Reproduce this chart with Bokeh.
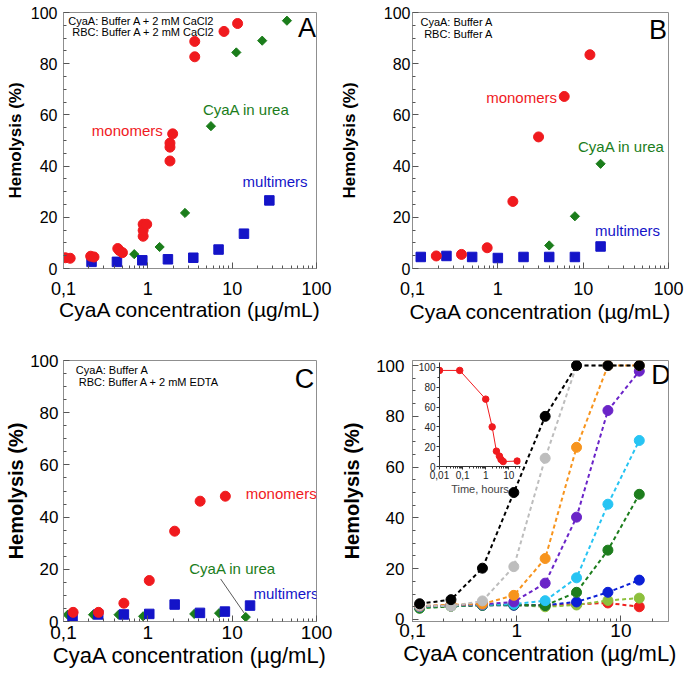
import math
from bokeh.plotting import figure
from bokeh.models import Range1d, FixedTicker, Label, GridBox, Spacer
from bokeh.layouts import column, row
from bokeh.embed import file_html
from bokeh.resources import INLINE

FONT = "Liberation Sans"
RED = "#f01a1e"
GREEN = "#1b7d1b"
BLUE = "#1414c8"
FRAME = "#8f8f8f"
TICK = "#555555"

# ---------------- data ----------------
x_tick_values = [0.1, 1, 10, 100]
x_tick_labels = ["0,1", "1", "10", "100"]
y_tick_values = [0, 20, 40, 60, 80, 100]

# Panel A  (CyaA: Buffer A + 2 mM CaCl2)
a_mono_x = [0.105, 0.12, 0.21, 0.23, 0.44, 0.46, 0.50, 0.88, 0.88, 0.88, 0.97,
            1.83, 1.83, 1.83, 1.97, 3.6, 3.6, 8.0, 11.6]
a_mono_y = [4.2, 4.0, 4.8, 4.5, 7.8, 7.0, 6.2, 12.6, 14.9, 17.3, 17.3,
            42.0, 47.4, 49.0, 52.6, 82.7, 88.7, 92.6, 95.7]
a_multi_x = [0.215, 0.43, 0.86, 1.73, 3.46, 6.9, 13.8, 27.6]
a_multi_y = [2.6, 2.6, 3.2, 3.6, 4.2, 7.4, 13.6, 26.6]
a_urea_x = [0.69, 1.38, 2.76, 5.6, 11.2, 22.7, 44.6]
a_urea_y = [5.6, 8.4, 21.7, 55.6, 84.4, 89.0, 96.8]

# Panel B  (CyaA: Buffer A / RBC: Buffer A)
b_mono_x = [0.19, 0.375, 0.75, 1.5, 3.0, 6.0, 12.0]
b_mono_y = [4.9, 5.5, 8.1, 26.2, 51.4, 67.2, 83.5]
b_multi_x = [0.125, 0.25, 0.5, 1.0, 2.0, 4.0, 8.0, 16.0]
b_multi_y = [4.5, 4.9, 4.5, 4.1, 4.5, 4.5, 4.5, 8.6]
b_urea_x = [4.0, 8.0, 16.0]
b_urea_y = [9.0, 20.4, 40.9]

# Panel C  (RBC: Buffer A + 2 mM EDTA)
c_mono_x = [0.13, 0.26, 0.52, 1.04, 2.08, 4.17, 8.3]
c_mono_y = [3.5, 3.5, 7.0, 15.7, 34.6, 46.1, 48.0]
c_multi_x = [0.128, 0.258, 0.52, 1.04, 2.08, 4.15, 8.2, 16.3]
c_multi_y = [2.0, 2.7, 2.7, 2.9, 6.5, 3.3, 3.8, 6.1]
c_urea_x = [0.112, 0.224, 0.45, 0.88, 3.55, 7.0, 14.5]
c_urea_y = [2.6, 2.6, 2.6, 2.0, 2.9, 3.2, 1.7]

# Panel D  (time series of monomer preparations)
d_x = [0.117, 0.234, 0.469, 0.938, 1.875, 3.75, 7.5, 15.0]
d_series = [
    ("#f01f1f", [5.0, 5.5, 5.8, 5.8, 5.6, 6.0, 6.5, 5.0]),
    ("#8dc03c", [4.6, 5.2, 5.6, 5.6, 5.0, 5.7, 7.5, 8.4]),
    ("#0b1fd6", [4.9, 5.4, 5.6, 5.6, 5.6, 6.9, 10.7, 15.5]),
    ("#1d7d1d", [4.4, 5.2, 5.6, 5.8, 5.5, 10.7, 27.3, 49.3]),
    ("#27c4f3", [5.0, 5.5, 5.8, 6.0, 7.4, 16.4, 45.4, 70.5]),
    ("#6a24c8", [5.2, 5.6, 6.0, 6.9, 14.3, 40.3, 82.3, 97.8]),
    ("#f7941d", [5.3, 5.8, 6.1, 9.5, 24.0, 67.8, 100.0, 100.0]),
    ("#bdbdbd", [5.5, 5.2, 7.3, 20.8, 63.5, 100.0, 100.0, 100.0]),
    ("#000000", [6.2, 7.8, 20.2, 50.0, 80.0, 100.0, 100.0, 100.0]),
]

# Inset (hemolysis vs time)
inset_time = [0.01, 0.075, 1.0, 1.9, 2.9, 3.9, 4.6, 5.7, 23.0]
inset_hem = [97.0, 97.0, 68.0, 40.0, 15.5, 10.5, 7.0, 5.0, 5.5]
inset_x_ticks = [0.01, 0.1, 1, 10]
inset_x_labels = ["0,01", "0,1", "1", "10"]


def log_minor(e0, e1):
    return [m * 10 ** e for e in range(e0, e1 + 1) for m in range(2, 10)]


def make_panel(width, height, left, right, top, bottom, x_end, y_start, y_end,
               xt_size, yt_size, xl_size, yl_size, yt_standoff, yl_standoff,
               xt_standoff, xl_standoff):
    p = figure(width=width, height=height, x_axis_type="log",
               x_range=Range1d(0.1, x_end), y_range=Range1d(y_start, y_end),
               output_backend="svg", toolbar_location=None,
               min_border_left=left, min_border_right=right,
               min_border_top=top, min_border_bottom=bottom)
    p.xgrid.visible = False
    p.ygrid.visible = False
    p.outline_line_color = FRAME
    p.outline_line_width = 1
    xa = p.xaxis[0]
    ya = p.yaxis[0]
    xa.ticker = FixedTicker(ticks=x_tick_values, minor_ticks=log_minor(-1, 2))
    xa.major_label_overrides = dict(zip(x_tick_values, x_tick_labels))
    ya.ticker = FixedTicker(ticks=y_tick_values,
                            minor_ticks=[v for v in range(5, 100, 5) if v % 20])
    for ax in (xa, ya):
        ax.axis_line_color = FRAME
        ax.major_tick_in = 6
        ax.major_tick_out = 0
        ax.minor_tick_in = 3
        ax.minor_tick_out = 0
        ax.major_tick_line_color = TICK
        ax.minor_tick_line_color = TICK
        ax.major_label_text_font = FONT
        ax.axis_label_text_font = FONT
        ax.major_label_text_color = "black"
        ax.axis_label_text_color = "black"
    xa.major_label_text_font_size = xt_size
    ya.major_label_text_font_size = yt_size
    xa.axis_label = "CyaA concentration (µg/mL)"
    ya.axis_label = "Hemolysis (%)"
    xa.axis_label_text_font_size = xl_size
    ya.axis_label_text_font_size = yl_size
    xa.axis_label_text_font_style = "normal"
    ya.axis_label_text_font_style = "bold"
    ya.major_label_standoff = yt_standoff
    ya.axis_label_standoff = yl_standoff
    xa.major_label_standoff = xt_standoff
    xa.axis_label_standoff = xl_standoff
    return p


def add_text(p, x, y, text, color="black", size="15px", align="left"):
    p.add_layout(Label(x=x, y=y, text=text, text_color=color, text_font=FONT,
                       text_font_size=size, text_align=align,
                       text_baseline="middle"))


def three_series(p, mono_x, mono_y, multi_x, multi_y, urea_x, urea_y):
    p.scatter(urea_x, urea_y, marker="square", angle=math.pi / 4, size=6.5,
              color=GREEN)
    p.scatter(multi_x, multi_y, marker="square", size=9.5, color=BLUE)
    p.scatter(mono_x, mono_y, marker="circle", size=10, color=RED)


# ---------------- Panel A ----------------
pA = make_panel(336, 330, 63, 16, 12, 62, 100, 0, 100,
                "18px", "16px", "21px", "17px", 6, 3, 13, 0)
three_series(pA, a_mono_x, a_mono_y, a_multi_x, a_multi_y, a_urea_x, a_urea_y)
add_text(pA, 0.114, 96.8, "CyaA: Buffer A + 2 mM CaCl2", size="11px")
add_text(pA, 0.127, 92.2, "RBC: Buffer A + 2 mM CaCl2", size="11px")
add_text(pA, 99, 93.8, "A", size="27px", align="right")
add_text(pA, 0.217, 53.9, "monomers", RED)
add_text(pA, 4.5, 62.3, "CyaA in urea", GREEN)
add_text(pA, 13.3, 33.8, "multimers", BLUE)

# ---------------- Panel B ----------------
pB = make_panel(349, 330, 74, 17, 12, 62, 100, 0, 100,
                "18px", "16px", "21px", "17px", 2, 22, 13, 2)
three_series(pB, b_mono_x, b_mono_y, b_multi_x, b_multi_y, b_urea_x, b_urea_y)
add_text(pB, 0.124, 96.4, "CyaA: Buffer A", size="11px")
add_text(pB, 0.137, 91.7, "RBC: Buffer A", size="11px")
add_text(pB, 96, 93.0, "B", size="27px", align="right")
add_text(pB, 0.73, 66.8, "monomers", RED)
add_text(pB, 8.7, 47.7, "CyaA in urea", GREEN)
add_text(pB, 13.8, 14.8, "multimers", BLUE)

# ---------------- Panel C ----------------
pC = make_panel(336, 343, 54, 20, 30, 52, 100, 0, 100,
                "19px", "17px", "22px", "20px", 5, 0, 4, 1)
pC.segment(x0=[7.3], y0=[16.3], x1=[14.1], y1=[2.9], line_color="#5a5a5a",
           line_width=1)
three_series(pC, c_mono_x, c_mono_y, c_multi_x, c_multi_y, c_urea_x, c_urea_y)
add_text(pC, 0.14, 96.4, "CyaA: Buffer A", size="11px")
add_text(pC, 0.152, 91.7, "RBC: Buffer A + 2 mM EDTA", size="11px")
add_text(pC, 94, 93.0, "C", size="27px", align="right")
add_text(pC, 14.5, 48.9, "monomers", RED)
add_text(pC, 3.1, 20.2, "CyaA in urea", GREEN)
add_text(pC, 17.9, 10.6, "multimers", BLUE)

# ---------------- Panel D ----------------
pD = make_panel(349, 343, 75, 5, 27, 48, 28.6, -0.8, 102,
                "19px", "17px", "22px", "20px", 8, 10, 2, 1)
for color, ys in d_series:
    pD.line(d_x, ys, line_color=color, line_width=2, line_dash="4 3")
    pD.scatter(d_x, ys, marker="circle", size=10, color=color)
add_text(pD, 30.0, 96.3, "D", size="27px", align="right")

# ---------------- Inset ----------------
pI = figure(width=109, height=137, x_axis_type="log",
            x_range=Range1d(0.01, 32), y_range=Range1d(0, 105),
            output_backend="svg", toolbar_location=None,
            min_border_left=22, min_border_right=4, min_border_top=2,
            min_border_bottom=30, background_fill_color=None,
            border_fill_color=None)
pI.outline_line_color = None
pI.xgrid.visible = False
pI.ygrid.visible = False
xi = pI.xaxis[0]
yi = pI.yaxis[0]
xi.ticker = FixedTicker(ticks=inset_x_ticks, minor_ticks=log_minor(-2, 1))
xi.major_label_overrides = dict(zip(inset_x_ticks, inset_x_labels))
yi.ticker = FixedTicker(ticks=y_tick_values, minor_ticks=[10, 30, 50, 70, 90])
for ax in (xi, yi):
    ax.axis_line_color = "#333333"
    ax.major_tick_in = 0
    ax.major_tick_out = 3
    ax.minor_tick_in = 0
    ax.minor_tick_out = 2
    ax.major_tick_line_color = "#333333"
    ax.minor_tick_line_color = "#333333"
    ax.major_label_text_font = FONT
    ax.major_label_text_font_size = "10px"
    ax.major_label_standoff = 1
    ax.major_label_text_color = "#222222"
xi.axis_label = "Time, hours"
xi.axis_label_text_font = FONT
xi.axis_label_text_font_size = "11px"
xi.axis_label_text_font_style = "normal"
xi.axis_label_standoff = 1
pI.line(inset_time, inset_hem, line_color=RED, line_width=1)
pI.scatter(inset_time, inset_hem, marker="circle", size=6.5, color=RED)

inset_box = column(Spacer(width=10, height=30),
                   row(Spacer(width=79, height=10), pI))

grid = GridBox(children=[(pA, 0, 0), (pB, 0, 1), (pC, 1, 0), (pD, 1, 1),
                         (inset_box, 1, 1)], spacing=0)

open("out.html", "w").write(file_html(grid, INLINE))
